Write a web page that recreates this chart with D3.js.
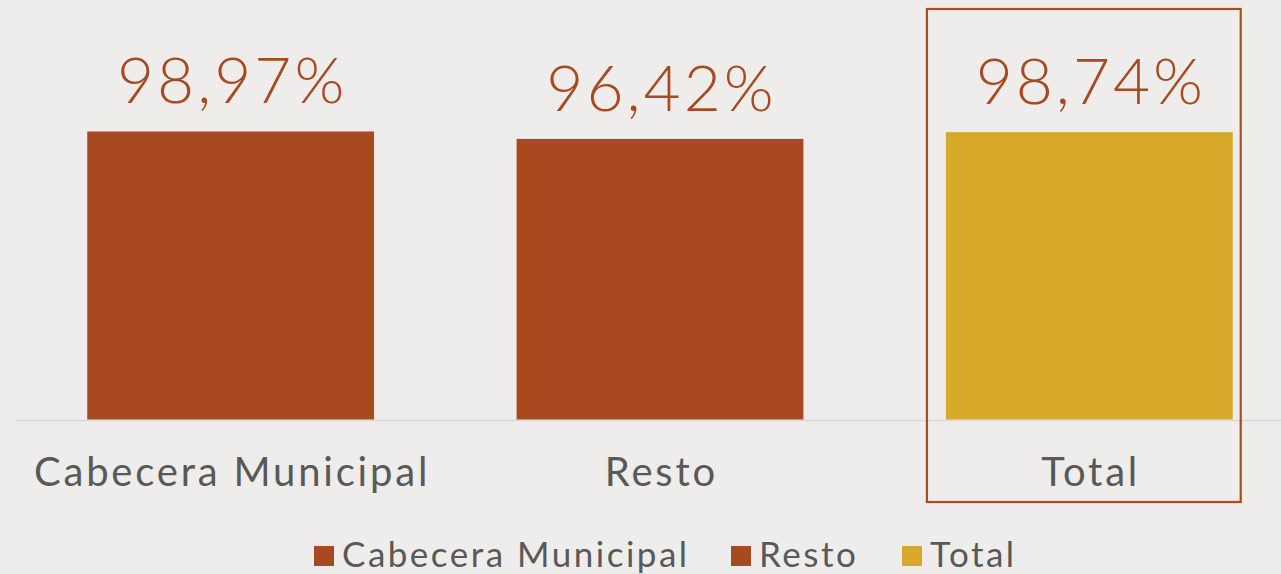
<!DOCTYPE html>
<html>
<head>
<meta charset="utf-8">
<script src="https://cdn.jsdelivr.net/npm/d3@7"></script>
<style>
  html, body { margin: 0; padding: 0; background: #EEEDEB; }
  svg { display: block; }
</style>
</head>
<body>
<svg id="chart"></svg>
<script>
const W = 1281, H = 574;

// data
const categories = ["Cabecera Municipal", "Resto", "Total"];
const values = [98.97, 96.42, 98.74];
const highlighted = "Total";
const legendLabels = ["Cabecera Municipal", "Resto", "Total"];

const fmt = v => d3.format(".2f")(v).replace(".", ",") + "%";

const color = d3.scaleOrdinal()
  .domain(categories)
  .range(["#A9491F", "#A9491F", "#D8A82A"]);

const svg = d3.select("#chart").attr("width", W).attr("height", H);

const x = d3.scaleBand()
  .domain(categories)
  .range([16, 1304])
  .paddingInner(0.332)
  .paddingOuter(0.166);

const y = d3.scaleLinear().domain([0, 100]).range([419.5, 128.5]);

// baseline
svg.append("line")
  .attr("x1", 15).attr("x2", W)
  .attr("y1", y(0) + 1).attr("y2", y(0) + 1)
  .attr("stroke", "#D9D9D9")
  .attr("stroke-width", 1.5);

// bars
svg.selectAll(".bar")
  .data(categories)
  .join("rect")
    .attr("class", "bar")
    .attr("x", d => x(d))
    .attr("width", x.bandwidth())
    .attr("y", (d, i) => y(values[i]))
    .attr("height", (d, i) => y(0) - y(values[i]))
    .attr("fill", d => color(d));

// value labels
svg.selectAll(".val")
  .data(categories)
  .join("text")
    .attr("class", "val")
    .attr("x", d => x(d) + x.bandwidth() / 2 + 1.5)
    .attr("y", (d, i) => y(values[i]) - 28)
    .attr("text-anchor", "middle")
    .attr("fill", "#A9491F")
    .style("font-family", "Lato, 'Open Sans', sans-serif")
    .style("font-weight", 300)
    .style("font-size", "64px")
    .style("letter-spacing", "3px")
    .text((d, i) => fmt(values[i]));

// category labels
svg.selectAll(".cat")
  .data(categories)
  .join("text")
    .attr("class", "cat")
    .attr("x", d => x(d) + x.bandwidth() / 2 + 1.4)
    .attr("y", 486)
    .attr("text-anchor", "middle")
    .attr("fill", "#595959")
    .style("font-family", "Lato, 'Open Sans', sans-serif")
    .style("font-size", "40px")
    .style("letter-spacing", "2.8px")
    .text(d => d);

// highlight box round the Total column
svg.append("rect")
  .attr("x", x(highlighted) - 19)
  .attr("y", 9)
  .attr("width", x.bandwidth() + 27)
  .attr("height", 493)
  .attr("fill", "none")
  .attr("stroke", "#B04A24")
  .attr("stroke-width", 2.2);

// legend
const legend = svg.append("g").attr("transform", "translate(0,546)");
const legX = [314, 731, 902];
const items = legend.selectAll("g")
  .data(legendLabels)
  .join("g")
    .attr("transform", (d, i) => `translate(${legX[i]},0)`);
items.append("rect")
  .attr("width", 20).attr("height", 20)
  .attr("fill", d => color(d));
items.append("text")
  .attr("x", 28)
  .attr("y", 21)
  .attr("fill", "#595959")
  .style("font-family", "Lato, 'Open Sans', sans-serif")
  .style("font-size", "35px")
  .style("letter-spacing", "2.5px")
  .text(d => d);
</script>
</body>
</html>
